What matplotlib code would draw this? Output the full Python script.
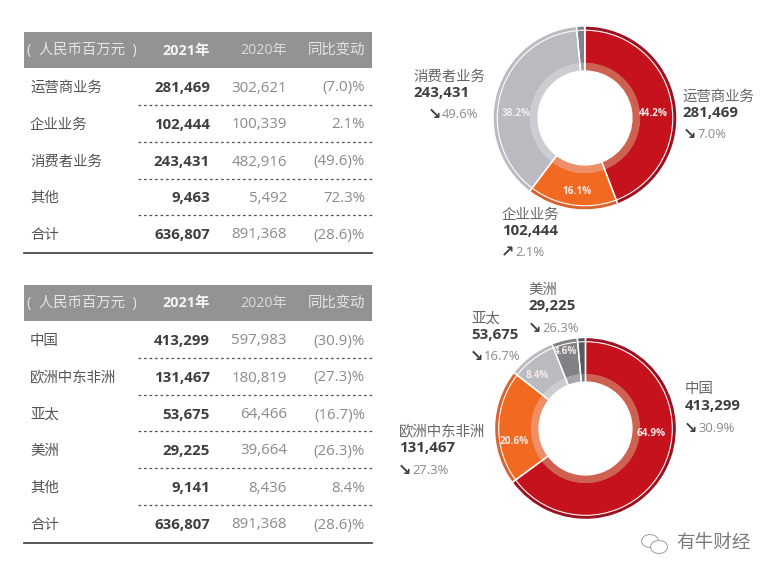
import matplotlib
matplotlib.use('Agg')
import matplotlib.pyplot as plt
from matplotlib.patches import Rectangle, Ellipse

plt.rcParams['font.family'] = ['Open Sans', 'Noto Sans CJK SC', 'DejaVu Sans']

W, H = 777, 575

# tables
header = ['(  人民币百万元  )', '2021年', '2020年', '同比变动']

biz_names = ['运营商业务', '企业业务', '消费者业务', '其他', '合计']
biz_2021 = ['281,469', '102,444', '243,431', '9,463', '636,807']
biz_2020 = ['302,621', '100,339', '482,916', '5,492', '891,368']
biz_change = ['(7.0)%', '2.1%', '(49.6)%', '72.3%', '(28.6)%']

geo_names = ['中国', '欧洲中东非洲', '亚太', '美洲', '其他', '合计']
geo_2021 = ['413,299', '131,467', '53,675', '29,225', '9,141', '636,807']
geo_2020 = ['597,983', '180,819', '64,466', '39,664', '8,436', '891,368']
geo_change = ['(30.9)%', '(27.3)%', '(16.7)%', '(26.3)%', '8.4%', '(28.6)%']

# donuts
biz_values = [281469, 102444, 243431, 9463]
biz_pct = ['44.2%', '16.1%', '38.2%', '']
geo_values = [413299, 131467, 53675, 29225, 9141]
geo_pct = ['64.9%', '20.6%', '8.4%', '4.6%', '']

RED = ('#c5121c', '#9c1020', '#cf6150')
ORANGE = ('#f26a21', '#d9622f', '#ee8f68')
LGRAY = ('#b9bbc0', '#b9bbc0', '#cbcdd0')
MGRAY = ('#808286', '#808286', '#a5a7ab')
DGRAY = ('#55585c', '#55585c', '#77797d')

TXT = '#3f3f3f'
SOFT = '#8a8a8a'

fig = plt.figure(figsize=(W / 100, H / 100), dpi=100, facecolor='white')
ax = fig.add_axes([0, 0, 1, 1])
ax.set_xlim(0, W)
ax.set_ylim(H, 0)
ax.axis('off')
ax.set_zorder(5)  # text goes over the donut axes


def draw_table(top, row_ys, dots, bottom, names, v21, v20, change):
    ax.add_patch(Rectangle((24, top), 348, 36, color='#939393', lw=0))
    ymid = top + 18.5
    ax.text(27, ymid, header[0], color='#e6e6e6', fontsize=10.4, ha='left', va='center')
    ax.text(210, ymid, header[1], color='#f5f5f5', fontsize=10.4, weight='bold', ha='right', va='center')
    ax.text(287, ymid, header[2], color='#dcdcdc', fontsize=10.2, ha='right', va='center')
    ax.text(365, ymid, header[3], color='#e6e6e6', fontsize=10.4, ha='right', va='center')
    for i, y in enumerate(row_ys):
        ax.text(30, y + 1, names[i], color='#555555', fontsize=10.4, ha='left', va='center')
        ax.text(210, y + 1, v21[i], color=TXT, fontsize=10.8, weight='bold', ha='right', va='center')
        ax.text(287, y + 1, v20[i], color=SOFT, fontsize=10.8, ha='right', va='center')
        ax.text(365, y + 1, change[i], color=SOFT, fontsize=10.8, ha='right', va='center')
    for y in dots:
        ax.plot([138, 372], [y, y], color='#555555', lw=0.9, ls=(0, (2.2, 2.2)))
    ax.plot([24, 372], [bottom, bottom], color='#4a4a4a', lw=1.3)


draw_table(32, [87, 124, 161, 197, 234], [105, 142, 179, 215], 253,
           biz_names, biz_2021, biz_2020, biz_change)
draw_table(285, [340, 377, 414, 450, 487, 524], [358, 395, 431, 468, 505], 543,
           geo_names, geo_2021, geo_2020, geo_change)


def draw_donut(cx, cy, R, values, colors):
    # axes sized in pixels so radius 1 == R px
    box = fig.add_axes([(cx - R) / W, 1 - (cy + R) / H, 2 * R / W, 2 * R / H])
    wp = dict(linewidth=0)
    # outer band, body, inner band
    box.pie(values, radius=1.0, startangle=90, counterclock=False, frame=True,
            colors=[c[1] for c in colors], wedgeprops=dict(width=0.06, **wp))
    box.pie(values, radius=0.955, startangle=90, counterclock=False, frame=True,
            colors=[c[0] for c in colors], wedgeprops=dict(width=0.36, **wp))
    box.pie(values, radius=0.60, startangle=90, counterclock=False, frame=True,
            colors=[c[2] for c in colors], wedgeprops=dict(width=0.09, **wp))
    # white seams between slices and white ring
    box.pie(values, radius=1.0, startangle=90, counterclock=False, frame=True,
            colors=['none'] * len(values),
            wedgeprops=dict(width=0.49, linewidth=1.0, edgecolor='white', facecolor='none'))
    box.pie([1], radius=0.96, frame=True, colors=['none'],
            wedgeprops=dict(width=0.012, linewidth=0, facecolor='white'))
    box.set_xlim(-1, 1)
    box.set_ylim(-1, 1)
    box.axis('off')
    return box


box1 = draw_donut(585, 118, 92, biz_values, [RED, ORANGE, LGRAY, MGRAY])
box2 = draw_donut(585.5, 428.5, 91, geo_values, [RED, ORANGE, LGRAY, MGRAY, DGRAY])

# percentages inside the rings
for x, y, s, in zip([653, 577, 516], [113, 191, 113], biz_pct[:3]):
    ax.text(x, y, s, color='#f6e9e9', fontsize=7.2, weight='bold', ha='center', va='center')
for x, y, s in zip([651, 514, 537, 566], [433, 441, 375, 352], geo_pct[:4]):
    ax.text(x, y, s, color='#f6e9e9', fontsize=7.2, weight='bold', ha='center', va='center')


def callout(x, y, name, value, arrow, pct, dx):
    ax.text(x, y, name, color='#666666', fontsize=10.4, ha='left', va='center')
    ax.text(x, y + 16, value, color=TXT, fontsize=10.8, weight='bold', ha='left', va='center')
    ax.text(x + dx, y + 38, arrow, color=TXT, fontsize=11.5, weight='bold', family='DejaVu Sans',
            ha='left', va='center')
    ax.text(x + dx + 14, y + 38, pct, color=SOFT, fontsize=9.4, ha='left', va='center')


callout(413, 77, '消费者业务', '243,431', '↘', '49.6%', 15)
callout(682, 97, '运营商业务', '281,469', '↘', '7.0%', 1)
callout(502, 215, '企业业务', '102,444', '↗', '2.1%', -1)
callout(528, 290, '美洲', '29,225', '↘', '26.3%', 0)
callout(471, 319, '亚太', '53,675', '↘', '16.7%', -1)
callout(685, 390, '中国', '413,299', '↘', '30.9%', -1)
callout(399, 432, '欧洲中东非洲', '131,467', '↘', '27.3%', -1)

# watermark
ax.text(676, 543, '有牛财经', color='#7a7a7a', fontsize=13.4, ha='left', va='center')
ax.add_patch(Ellipse((650, 541), 17, 13, fill=False, ec='#a8a8a8', lw=0.8))
ax.add_patch(Ellipse((659, 547), 17, 13, fc='white', ec='#a8a8a8', lw=0.8))

fig.savefig('out.png', dpi=100, facecolor='white')
